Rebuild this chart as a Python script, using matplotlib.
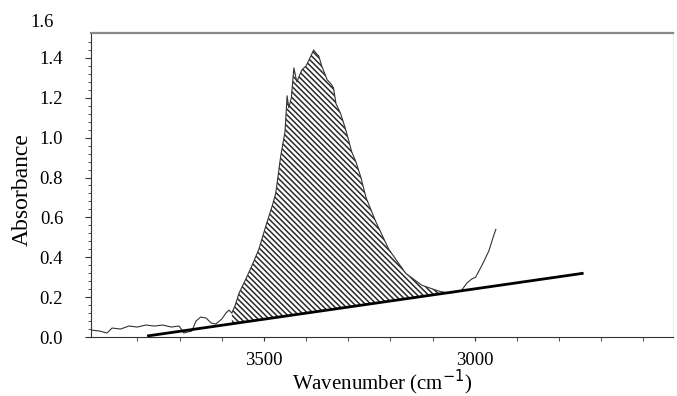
import matplotlib
matplotlib.use('Agg')
import matplotlib.pyplot as plt
import numpy as np

plt.rcParams['font.family'] = ['Liberation Serif', 'DejaVu Serif']
plt.rcParams['hatch.linewidth'] = 1.1

# spectrum (wavenumber, absorbance)
wavenumber = [3910, 3890, 3872, 3860, 3840, 3820, 3800, 3780, 3760, 3740, 3720, 3701,
              3690, 3671, 3661, 3650, 3637, 3625, 3614, 3600, 3590, 3583, 3576, 3568,
              3559, 3543, 3528, 3512, 3495, 3480, 3472, 3460, 3450, 3445, 3441, 3435,
              3429, 3422, 3410, 3400, 3393, 3382, 3375, 3370, 3363, 3350, 3341, 3335,
              3329, 3318, 3306, 3292, 3282, 3270, 3258, 3235, 3204, 3164, 3126, 3085,
              3062, 3045, 3031, 3019, 3008, 2998, 2983, 2967, 2955, 2950]
absorbance = [0.035, 0.03, 0.02, 0.045, 0.04, 0.055, 0.05, 0.06, 0.055, 0.06, 0.05, 0.055,
              0.02, 0.03, 0.08, 0.10, 0.095, 0.07, 0.065, 0.09, 0.12, 0.135, 0.12, 0.16,
              0.22, 0.29, 0.36, 0.44, 0.56, 0.66, 0.72, 0.91, 1.03, 1.21, 1.15, 1.20,
              1.35, 1.28, 1.34, 1.36, 1.39, 1.44, 1.42, 1.41, 1.36, 1.29, 1.27, 1.25,
              1.17, 1.12, 1.04, 0.93, 0.88, 0.80, 0.70, 0.58, 0.44, 0.32, 0.26, 0.23,
              0.22, 0.225, 0.235, 0.27, 0.29, 0.30, 0.36, 0.43, 0.51, 0.54]

# straight baseline under the band
base_w = [3777, 2742]
base_a = [0.005, 0.32]
band_lo, band_hi = 3062, 3580

x_ticks = [3500, 3000]
x_minor = [3800, 3700, 3600, 3400, 3300, 3200, 3100, 2900, 2800, 2700, 2600]
y_ticks = [0.0, 0.2, 0.4, 0.6, 0.8, 1.0, 1.2, 1.4]

w = np.array(wavenumber)
a = np.array(absorbance)
base = np.interp(w, base_w[::-1], base_a[::-1])

fig = plt.figure(figsize=(6.77, 3.96), dpi=100)
ax = fig.add_axes([91/677, 59/396, 582/677, 304/396])

mask = (w >= band_lo) & (w <= band_hi)
ax.fill_between(w[mask], base[mask], a[mask], facecolor='white',
                edgecolor='#2a2a2a', hatch='\\\\\\\\\\\\', linewidth=0)
ax.plot(w, a, color='#333333', lw=0.8)
ax.plot(base_w, base_a, color='black', lw=2.0, solid_capstyle='butt')

ax.set_xlim(3910, 2530)
ax.set_ylim(0, 1.525)

ax.set_xticks(x_ticks)
ax.set_xticks(x_minor, minor=True)
ax.set_yticks(y_ticks)
ax.set_yticklabels(['%.1f' % v for v in y_ticks])
ax.set_yticks(np.arange(0, 1.52, 0.04), minor=True)
ax.text(-0.03 - 20/582, 1.58, '1.6', transform=ax.get_yaxis_transform(),
        ha='right', va='center', fontsize=13.5, clip_on=False)

ax.tick_params(axis='both', which='both', direction='out', labelsize=13.5, color='#333333')
ax.tick_params(axis='y', which='major', length=4, pad=16)
ax.tick_params(axis='y', which='minor', length=2)
ax.tick_params(axis='x', which='both', length=3, pad=8)

ax.spines['top'].set_color('#888888')
ax.spines['top'].set_linewidth(1.6)
ax.spines['right'].set_color('#eeeeee')
ax.spines['left'].set_color('#333333')
ax.spines['bottom'].set_color('#333333')

ax.set_xlabel('Wavenumber (cm$^{-1}$)', fontsize=15, va='center')
ax.xaxis.set_label_coords(0.5, -0.15)
ax.set_ylabel('Absorbance', fontsize=17, va='center')
ax.yaxis.set_label_coords(-0.118, 0.484)

fig.savefig('out.png', dpi=100)
